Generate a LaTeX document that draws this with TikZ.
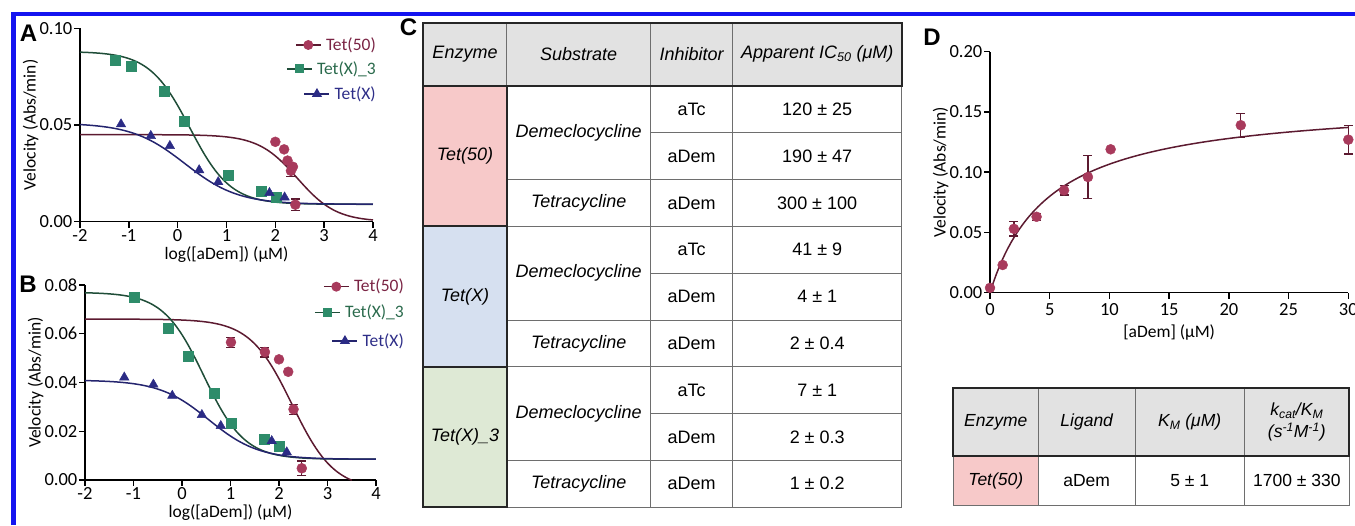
\documentclass[tikz,border=0pt]{standalone}
\usepackage{fontspec}
\setmainfont{Liberation Sans}
\newfontfamily\plotfont{Carlito}
\usepackage{pgfplots}
\pgfplotsset{compat=1.18}
\usepackage{xcolor}
\usetikzlibrary{shapes.geometric,positioning,calc}

\newcommand\cellfont{\fontsize{18}{21}\selectfont}
\newcommand\plottext{\plotfont\fontsize{18.5}{19}\selectfont}
\newcommand\plotlabel{\plotfont\fontsize{17.5}{18}\selectfont}

\definecolor{fiftymark}{HTML}{A83A5C}
\definecolor{fiftyline}{HTML}{5C1A30}
\definecolor{fiftytext}{HTML}{7A2444}
\definecolor{threemark}{HTML}{2E8C6A}
\definecolor{threeline}{HTML}{1F4D38}
\definecolor{threetext}{HTML}{2A6A4C}
\definecolor{xmark}{HTML}{2B2B85}
\definecolor{xline}{HTML}{24246E}
\definecolor{xtext}{HTML}{2E2E88}
\definecolor{headgrey}{HTML}{E2E2E2}
\definecolor{pinkcell}{HTML}{F7C9C9}
\definecolor{bluecell}{HTML}{D6E0F0}
\definecolor{greencell}{HTML}{DEE9D5}
\definecolor{gridgrey}{HTML}{6E6E6E}
\definecolor{frameblue}{HTML}{1414F0}

\pgfplotsset{
  velplot/.style={
    scale only axis, axis lines=left, axis line style={-, line width=1.4pt},
    tick align=outside, major tick length=6pt, tick style={black, line width=1.4pt},
    scaled ticks=false, clip=false,
    ticklabel style={font=\plottext, inner sep=1.5pt},
    label style={font=\plotlabel},
    ylabel shift=-4pt,
  },
  fitcurve/.style={no marks, samples=120, line width=1.5pt},
  errstyle/.style={error bars/.cd, y dir=both, y explicit,
    error bar style={#1, line width=1.3pt},
    error mark options={#1, rotate=90, line width=1.3pt, mark size=4.5pt}},
}

\begin{document}
\begin{tikzpicture}[x=1pt, y=1pt,
    thinrule/.style={draw=gridgrey, line width=0.9pt},
    thickrule/.style={draw=black!85, line width=2.2pt},
    cell/.style={inner sep=0pt, font=\cellfont},
    hcell/.style={inner sep=0pt, font=\cellfont\itshape, align=center},
    legtext/.style={anchor=east, inner sep=0pt, font=\plotlabel},
    dotmark/.style={circle, inner sep=0pt, minimum size=10pt},
    boxmark/.style={rectangle, inner sep=0pt, minimum size=9pt},
    trimark/.style={regular polygon, regular polygon sides=3, inner sep=0pt, minimum size=12pt},
    panel/.style={inner sep=0pt, font=\bfseries\fontsize{24}{24}\selectfont}
  ]
  \useasboundingbox (0,0) rectangle (1355,525);
  \draw[frameblue, line width=4.5pt] (13.5,0) -- (13.5,511) -- (1355,511);

  \node[panel] (labA) at (28.5,491.5) {A};
  \node[panel] (labB) at (28,240.5) {B};
  \node[panel] (labC) at (408.5,497.5) {C};
  \node[panel] (labD) at (932,487.5) {D};

  % panel A
  \begin{axis}[velplot, name=plotA, at={(80pt,303.3pt)}, width=293pt, height=193.4pt,
      xmin=-2, xmax=4, ymin=0, ymax=0.1,
      xtick={-2,...,4}, xticklabels={-2,-1,0,1,2,3,4},
      ytick={0,0.05,0.1}, yticklabels={0.00,0.05,0.10},
      xlabel={log([aDem]) (μM)}, ylabel={Velocity (Abs/min)}]
    \addplot[fitcurve, fiftyline, domain=-2:4] {0.045/(1+10^((x-2.45)*1.09))};
    \addplot[fitcurve, threeline, domain=-2:4] {0.009+0.079/(1+10^((x-0.25)*1.05))};
    \addplot[fitcurve, xline, domain=-2:4] {0.009+0.042/(1+10^((x-0.15)*0.8))};
    \addplot[only marks, mark=*, mark size=5pt, fiftymark] coordinates
      {(2.0,0.0413) (2.18,0.0374) (2.25,0.0316) (2.36,0.0284)};
    \addplot[only marks, mark=*, mark size=5pt, fiftymark, errstyle=fiftyline] coordinates
      {(2.32,0.0263) +- (0,0.003) (2.41,0.0088) +- (0,0.003)};
    \addplot[only marks, mark=square*, mark size=5pt, threemark] coordinates
      {(-1.27,0.0834) (-0.95,0.0802) (-0.28,0.0676) (0.13,0.0518) (1.04,0.0241) (1.71,0.0158) (2.02,0.0128)};
    \addplot[only marks, mark=triangle*, mark size=5.5pt, xmark] coordinates
      {(-1.16,0.0504) (-0.55,0.0444) (-0.16,0.0392) (0.44,0.0267) (0.83,0.0205) (1.88,0.0149) (2.19,0.0126)};
  \end{axis}

  \node[legtext, text=fiftytext] (legAfifty) at (376,480) {Tet(50)};
  \draw[fiftyline, line width=1.5pt] ([xshift=-30pt]legAfifty.west) -- ([xshift=-5pt]legAfifty.west)
    node[midway, dotmark, fill=fiftymark] (keyAfifty) {};
  \node[legtext, text=threetext] (legAthree) at (376,456) {Tet(X)\_3};
  \draw[threeline, line width=1.5pt] ([xshift=-30pt]legAthree.west) -- ([xshift=-5pt]legAthree.west)
    node[midway, boxmark, fill=threemark] (keyAthree) {};
  \node[legtext, text=xtext] (legAx) at (376,431) {Tet(X)};
  \draw[xline, line width=1.5pt] ([xshift=-30pt]legAx.west) -- ([xshift=-5pt]legAx.west)
    node[midway, trimark, fill=xmark] (keyAx) {};

  % panel B
  \begin{axis}[velplot, name=plotB, at={(85pt,45pt)}, width=291pt, height=195pt,
      xmin=-2, xmax=4, ymin=0, ymax=0.08,
      xtick={-2,...,4}, xticklabels={-2,-1,0,1,2,3,4},
      ytick={0,0.02,0.04,0.06,0.08}, yticklabels={0.00,0.02,0.04,0.06,0.08},
      xlabel={log([aDem]) (μM)}, ylabel={Velocity (Abs/min)}]
    \addplot[fitcurve, fiftyline, domain=-2:3.5] {-0.004+0.07/(1+10^((x-2.27)*1.0))};
    \addplot[fitcurve, threeline, domain=-2:4] {0.0085+0.0685/(1+10^((x-0.45)*1.04))};
    \addplot[fitcurve, xline, domain=-2:4] {0.0085+0.0325/(1+10^((x-0.55)*0.85))};
    \addplot[only marks, mark=*, mark size=5pt, fiftymark] coordinates
      {(2.0,0.0495) (2.19,0.0444)};
    \addplot[only marks, mark=*, mark size=5pt, fiftymark, errstyle=fiftyline] coordinates
      {(1.01,0.0565) +- (0,0.002) (1.71,0.0525) +- (0,0.002) (2.3,0.029) +- (0,0.002) (2.47,0.0048) +- (0,0.003)};
    \addplot[only marks, mark=square*, mark size=5pt, threemark] coordinates
      {(-0.99,0.0752) (0.67,0.0356) (1.01,0.0232) (1.70,0.0167) (2.0,0.014)};
    \addplot[only marks, mark=square*, mark size=5pt, threemark, errstyle=threeline] coordinates
      {(-0.29,0.0622) +- (0,0.002) (0.12,0.0506) +- (0,0.002)};
    \addplot[only marks, mark=triangle*, mark size=5.5pt, xmark] coordinates
      {(-1.19,0.0421) (-0.59,0.0392) (-0.2,0.0346) (0.41,0.0267) (0.8,0.0222) (1.85,0.016) (2.16,0.0114)};
  \end{axis}

  \node[legtext, text=fiftytext] (legBfifty) at (404,238.3) {Tet(50)};
  \draw[fiftyline, line width=1.5pt] ([xshift=-30pt]legBfifty.west) -- ([xshift=-5pt]legBfifty.west)
    node[midway, dotmark, fill=fiftymark] (keyBfifty) {};
  \node[legtext, text=threetext] (legBthree) at (404,212.7) {Tet(X)\_3};
  \draw[threeline, line width=1.5pt] ([xshift=-30pt]legBthree.west) -- ([xshift=-5pt]legBthree.west)
    node[midway, boxmark, fill=threemark] (keyBthree) {};
  \node[legtext, text=xtext] (legBx) at (404,184) {Tet(X)};
  \draw[xline, line width=1.5pt] ([xshift=-30pt]legBx.west) -- ([xshift=-5pt]legBx.west)
    node[midway, trimark, fill=xmark] (keyBx) {};

  % panel C
  \def\rowh{46.8}
  \fill[headgrey] (423.3,439) rectangle (901.7,502.3);
  \foreach \enz/\shade/\va/\vb/\vc [count=\i from 0] in
      {Tet(50)/pinkcell/120 ± 25/190 ± 47/300 ± 100,
       Tet(X)/bluecell/41 ± 9/4 ± 1/2 ± 0.4,
       Tet(X)\_3/greencell/7 ± 1/2 ± 0.3/1 ± 0.2}{
    \pgfmathsetmacro{\gtop}{439-3*\rowh*\i}
    \pgfmathsetmacro{\gmid}{\gtop-\rowh}
    \pgfmathsetmacro{\glow}{\gtop-2*\rowh}
    \pgfmathsetmacro{\gbot}{\gtop-3*\rowh}
    \fill[\shade] (423.3,\gbot) rectangle (506.7,\gtop);
    \draw[thinrule] (650.7,\gmid) -- (901.7,\gmid);
    \draw[thinrule] (506.7,\glow) -- (901.7,\glow);
    \draw[thinrule] (506.7,\gbot) -- (901.7,\gbot);
    \node[hcell] (enz\i) at (465,{\gtop-1.5*\rowh}) {\enz};
    \node[hcell] (dem\i) at (578.7,\gmid) {Demeclocycline};
    \node[hcell] (tet\i) at (578.7,{\glow-0.5*\rowh}) {Tetracycline};
    \node[cell] (inhA\i) at (691.7,{\gtop-0.5*\rowh}) {aTc};
    \node[cell] (inhB\i) at (691.7,{\gmid-0.5*\rowh}) {aDem};
    \node[cell] (inhC\i) at (691.7,{\glow-0.5*\rowh}) {aDem};
    \node[cell] (valA\i) at (817.2,{\gtop-0.5*\rowh}) {\va};
    \node[cell] (valB\i) at (817.2,{\gmid-0.5*\rowh}) {\vb};
    \node[cell] (valC\i) at (817.2,{\glow-0.5*\rowh}) {\vc};
  }
  \foreach \cx in {650.7,732.7,901.7}
    \draw[thinrule] (\cx,17.8) -- (\cx,439);
  \foreach \cx in {506.7,650.7,732.7}
    \draw[thinrule] (\cx,439) -- (\cx,502.3);
  \foreach \i in {0,1,2}
    \draw[thickrule] (423.3,{439-3*\rowh*(\i+1)}) rectangle (506.7,{439-3*\rowh*\i});
  \draw[thickrule] (423.3,439) rectangle (901.7,502.3);
  \node[hcell] (hEnz) at (465,470.7) {Enzyme};
  \node[hcell] (hSub) at (578.7,470.7) {Substrate};
  \node[hcell] (hInh) at (691.7,470.7) {Inhibitor};
  \node[hcell] (hIC) at (817.2,470.7) {Apparent IC\textsubscript{50} (μM)};

  % panel D
  \begin{axis}[velplot, name=plotD, at={(990pt,232.3pt)}, width=358.3pt, height=241pt,
      xmin=0, xmax=30, ymin=0, ymax=0.2,
      xtick={0,5,...,30}, xticklabels={0,5,10,15,20,25,30},
      ytick={0,0.05,0.1,0.15,0.2}, yticklabels={0.00,0.05,0.10,0.15,0.20},
      xlabel={[aDem] (μM)}, ylabel={Velocity (Abs/min)},
      xticklabel style={yshift=-3pt}, xlabel style={yshift=-4pt}]
    \addplot[fitcurve, fiftyline, domain=0:30] {0.16*x/(5+x)};
    \addplot[only marks, mark=*, mark size=5pt, fiftymark] coordinates
      {(0,0.004) (1.06,0.023) (10.1,0.119)};
    \addplot[only marks, mark=*, mark size=5pt, fiftymark, errstyle=fiftyline] coordinates
      {(2,0.053) +- (0,0.006) (3.9,0.063) +- (0,0.003) (6.2,0.085) +- (0,0.004)
       (8.2,0.096) +- (0,0.018) (21,0.139) +- (0,0.01) (30,0.127) +- (0,0.012)};
  \end{axis}

  \fill[headgrey] (953.3,69) rectangle (1349.3,136.7);
  \fill[pinkcell] (953.3,19.3) rectangle (1038.3,69);
  \draw[thinrule] (953.3,69) -- (953.3,19.3) -- (1349.3,19.3) -- (1349.3,69);
  \foreach \cx in {1038.3,1135,1244.3}
    \draw[thinrule] (\cx,19.3) -- (\cx,136.7);
  \draw[thickrule] (953.3,69) rectangle (1349.3,136.7);
  \node[hcell, font=\fontsize{17.5}{20}\selectfont\itshape] (kEnz) at (995.8,102.9) {Enzyme};
  \node[hcell, font=\fontsize{17.5}{20}\selectfont\itshape] (kLig) at (1086.7,102.9) {Ligand};
  \node[hcell, font=\fontsize{17.5}{20}\selectfont\itshape] (kKm) at (1189.7,102.9) {K\textsubscript{M} (μM)};
  \node[hcell, font=\fontsize{17.5}{22}\selectfont\itshape] (kRate) at (1296.8,102.9)
    {k\textsubscript{cat}/K\textsubscript{M}\\(s\textsuperscript{-1}M\textsuperscript{-1})};
  \node[hcell, font=\fontsize{17.5}{20}\selectfont\itshape] (kTet) at (995.8,44.2) {Tet(50)};
  \node[cell, font=\fontsize{17.5}{20}\selectfont] (kLigv) at (1086.7,44.2) {aDem};
  \node[cell, font=\fontsize{17.5}{20}\selectfont] (kKmv) at (1189.7,44.2) {5 ± 1};
  \node[cell, font=\fontsize{17.5}{20}\selectfont] (kRatev) at (1296.8,44.2) {1700 ± 330};
\end{tikzpicture}
\end{document}
